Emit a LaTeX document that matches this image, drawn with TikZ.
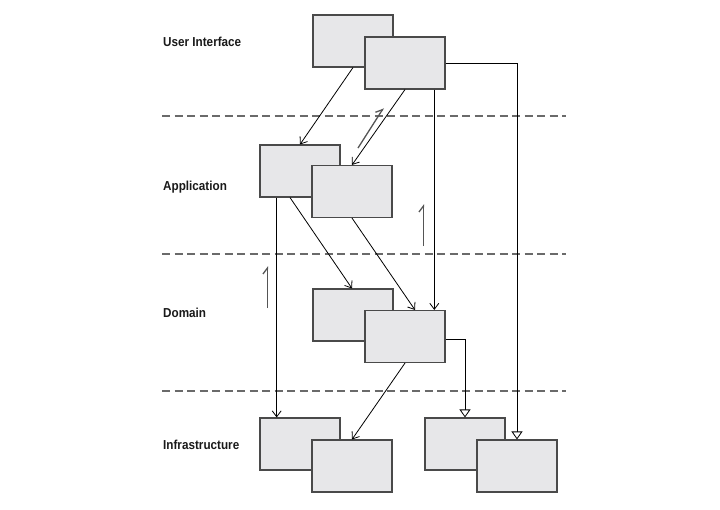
\documentclass[tikz,border=0pt]{standalone}
\usepackage{fontspec}
\newfontfamily\lblfont{Liberation Sans}[FakeStretch=0.9]
\usetikzlibrary{arrows.meta}
\definecolor{boxfill}{HTML}{E7E7E9}
\definecolor{boxline}{HTML}{4A4A4A}
\definecolor{dashcol}{HTML}{6A6A6A}
\definecolor{harpcol}{HTML}{555555}
\begin{document}
\begin{tikzpicture}[x=1pt,y=-1pt,
  layerbox/.style={draw=boxline,fill=boxfill,line width=1.1pt,minimum width=80pt,minimum height=52pt,inner sep=0pt},
  layerlabel/.style={font=\lblfont\bfseries\fontsize{13}{15}\selectfont,anchor=base west,inner sep=0pt,text=black!90},
  sep/.style={draw=dashcol,line width=1.2pt,dash pattern=on 8pt off 4.5pt},
  dep/.style={draw=black,line width=0.8pt,-{Straight Barb[length=6pt,width=9pt,line width=0.8pt]}},
  inh/.style={draw=black,line width=0.8pt,-{Triangle[open,length=8pt,width=11pt,fill=white,line width=0.8pt]}},
  harp/.style={draw=harpcol,line width=1.3pt,-{Straight Barb[harpoon,length=6pt,width=9pt,line width=1.3pt]}}
]
\useasboundingbox (0,0) rectangle (720,509);

% layer separators
\coordinate (s1a) at (162,116); \coordinate (s1b) at (566,116);
\coordinate (s2a) at (162,254); \coordinate (s2b) at (566,254);
\coordinate (s3a) at (162,391); \coordinate (s3b) at (566,391);
\draw[sep] (s1a) -- (s1b);
\draw[sep] (s2a) -- (s2b);
\draw[sep] (s3a) -- (s3b);

% labels
\node[layerlabel] (lui) at (163,46) {User Interface};
\node[layerlabel] (lapp) at (163,190) {Application};
\node[layerlabel] (ldom) at (163,317) {Domain};
\node[layerlabel] (linf) at (163,449) {Infrastructure};

% boxes
\node[layerbox] (ui1) at (353,41) {};
\node[layerbox] (ui2) at (405,63) {};
\node[layerbox] (app1) at (300,171) {};
\node[layerbox] (app2) at (352,191.5) {};
\node[layerbox] (dom1) at (353,315) {};
\node[layerbox] (dom2) at (405,336.5) {};
\node[layerbox] (inf1) at (300,444) {};
\node[layerbox] (inf2) at (352,466) {};
\node[layerbox] (inf3) at (465,444) {};
\node[layerbox] (inf4) at (517,466) {};

% dependencies
\draw[dep] (ui1.south) -- (app1.north);
\draw[dep] (ui2.south) -- (app2.north);
\draw[dep] ([xshift=29.3pt]ui2.south) -- ([xshift=29.3pt]dom2.north);
\draw[inh] (ui2.east) -| (inf4.north);
\draw[dep] ([xshift=-23.3pt]app1.south) -- ([xshift=-23.3pt]inf1.north);
\draw[dep] ([xshift=-10pt]app1.south) -- ([xshift=-1pt]dom1.north);
\draw[dep] (app2.south) -- ([xshift=10pt]dom2.north);
\draw[inh] ([yshift=-3pt]dom2.east) -| (inf3.north);
\draw[dep] (dom2.south) -- (inf2.north);

% direction harpoons
\coordinate (ha1) at (358,148); \coordinate (ha2) at (383.5,108);
\coordinate (hb1) at (423.5,246); \coordinate (hb2) at (423.5,204);
\coordinate (hc1) at (267.5,308); \coordinate (hc2) at (267.5,266);
\draw[harp] (ha1) -- (ha2);
\draw[harp] (hb1) -- (hb2);
\draw[harp] (hc1) -- (hc2);
\end{tikzpicture}
\end{document}
